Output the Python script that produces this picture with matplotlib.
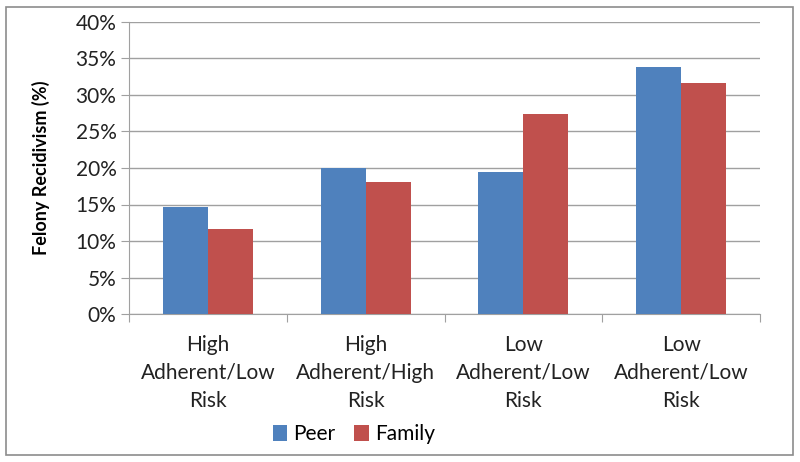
import matplotlib
matplotlib.use("Agg")
import matplotlib.pyplot as plt
from matplotlib.patches import Rectangle

categories = ["High\nAdherent/Low\nRisk", "High\nAdherent/High\nRisk",
              "Low\nAdherent/Low\nRisk", "Low\nAdherent/Low\nRisk"]
peer = [14.6, 20.0, 19.4, 33.9]
family = [11.6, 18.1, 27.4, 31.6]
yticks = [0, 5, 10, 15, 20, 25, 30, 35, 40]
ytick_labels = [f"{v}%" for v in yticks]

plt.rcParams['font.family'] = ['Lato', 'DejaVu Sans']

fig = plt.figure(figsize=(8, 4.62), dpi=100)
fig.patches.append(Rectangle((6/800, 7/462), 787/800, 448/462, transform=fig.transFigure,
                             fill=False, edgecolor='#8c8c8c', linewidth=1.2))
ax = fig.add_axes([129/800, 1-314/462, (760-129)/800, (314-22)/462])

x = list(range(len(categories)))
w = 0.285
ax.bar([i - w/2 for i in x], peer, width=w, color='#4F81BD', label='Peer', zorder=3)
ax.bar([i + w/2 for i in x], family, width=w, color='#C0504D', label='Family', zorder=3)

ax.set_xlim(-0.5, len(categories) - 0.5)
ax.set_ylim(0, 40)
ax.set_yticks(yticks)
ax.set_yticklabels(ytick_labels, fontsize=15, color='#222222')
ax.yaxis.grid(True, color='#a0a0a0', linewidth=1, zorder=0)
ax.tick_params(axis='y', length=6, color='#a0a0a0', pad=3)

ax.set_xticks([i - 0.5 for i in range(len(categories) + 1)], minor=False)
ax.set_xticklabels([])
ax.tick_params(axis='x', length=6, color='#a0a0a0')
for i, c in enumerate(categories):
    ax.text(i, -2.9, c, ha='center', va='top', fontsize=15, color='#222222',
            linespacing=1.48, transform=ax.transData)

for s in ['top', 'right']:
    ax.spines[s].set_visible(False)
ax.spines['left'].set_color('#a0a0a0')
ax.spines['bottom'].set_color('#a0a0a0')

ax.set_ylabel("Felony Recidivism (%)", fontsize=13, fontweight='bold')
ax.yaxis.set_label_coords(-0.125, 0.5)

leg = fig.legend(loc='center', bbox_to_anchor=(354/800, 1-434/462), ncol=2, frameon=False,
                 fontsize=15, handlelength=0.7, handleheight=0.8, handletextpad=0.3,
                 columnspacing=0.9)

fig.savefig("out.png", dpi=100)
